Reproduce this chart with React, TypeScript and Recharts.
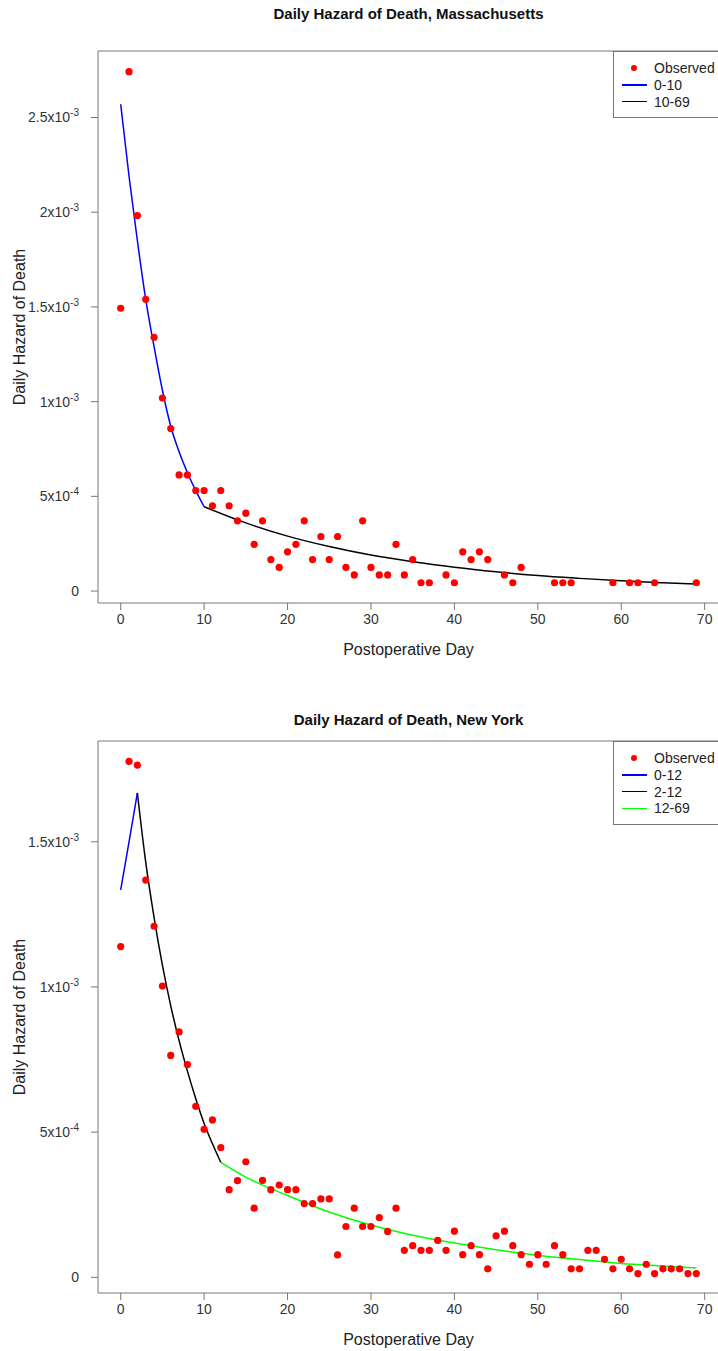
import {
  ComposedChart,
  Scatter,
  Line,
  XAxis,
  YAxis,
  ReferenceArea,
} from 'recharts';

// Massachusetts: observed daily hazard (days without deaths are not plotted)
const MA_DAYS = [
  0, 1, 2, 3, 4, 5, 6, 7, 8, 9, 10, 11, 12, 13, 14, 15, 16, 17, 18, 19, 20, 21, 22, 23, 24, 25, 26, 27,
  28, 29, 30, 31, 32, 33, 34, 35, 36, 37, 39, 40, 41, 42, 43, 44, 46, 47, 48, 52, 53, 54, 59, 61, 62,
  64, 69,
];
const MA_OBSERVED = [
  1.493e-3, 2.742e-3, 1.982e-3, 1.54e-3, 1.34e-3, 1.019e-3, 8.58e-4, 6.13e-4, 6.13e-4, 5.31e-4,
  5.31e-4, 4.5e-4, 5.31e-4, 4.5e-4, 3.71e-4, 4.11e-4, 2.47e-4, 3.71e-4, 1.66e-4, 1.25e-4, 2.07e-4,
  2.47e-4, 3.71e-4, 1.66e-4, 2.88e-4, 1.66e-4, 2.88e-4, 1.25e-4, 8.5e-5, 3.71e-4, 1.25e-4, 8.5e-5,
  8.5e-5, 2.47e-4, 8.5e-5, 1.66e-4, 4.4e-5, 4.4e-5, 8.5e-5, 4.4e-5, 2.07e-4, 1.66e-4, 2.07e-4,
  1.66e-4, 8.5e-5, 4.4e-5, 1.25e-4, 4.4e-5, 4.4e-5, 4.4e-5, 4.4e-5, 4.4e-5, 4.4e-5, 4.4e-5, 4.4e-5,
];
const MA_FIT1_DAYS = [0, 1, 2, 3, 4, 5, 6, 7, 8, 9, 10];
const MA_FIT1 = [2.57e-3, 2.19e-3, 1.85e-3, 1.54e-3, 1.29e-3, 1.06e-3, 8.7e-4, 7.35e-4, 6.25e-4, 5.3e-4, 4.45e-4];
const MA_FIT2_DAYS = [10, 15, 20, 25, 30, 35, 40, 45, 50, 55, 60, 65, 69];
const MA_FIT2 = [4.45e-4, 3.6e-4, 2.9e-4, 2.35e-4, 1.9e-4, 1.55e-4, 1.26e-4, 1.02e-4, 8.2e-5, 6.7e-5, 5.4e-5, 4.4e-5, 3.7e-5];

// New York
const NY_DAYS = [
  0, 1, 2, 3, 4, 5, 6, 7, 8, 9, 10, 11, 12, 13, 14, 15, 16, 17, 18, 19, 20, 21, 22, 23, 24, 25, 26, 27,
  28, 29, 30, 31, 32, 33, 34, 35, 36, 37, 38, 39, 40, 41, 42, 43, 44, 45, 46, 47, 48, 49, 50, 51, 52,
  53, 54, 55, 56, 57, 58, 59, 60, 61, 62, 63, 64, 65, 66, 67, 68, 69,
];
const NY_OBSERVED = [
  1.139e-3, 1.777e-3, 1.764e-3, 1.368e-3, 1.209e-3, 1.003e-3, 7.64e-4, 8.45e-4, 7.33e-4, 5.89e-4,
  5.1e-4, 5.42e-4, 4.47e-4, 3.02e-4, 3.33e-4, 3.98e-4, 2.38e-4, 3.34e-4, 3.02e-4, 3.18e-4, 3.02e-4,
  3.02e-4, 2.54e-4, 2.54e-4, 2.7e-4, 2.7e-4, 7.7e-5, 1.75e-4, 2.38e-4, 1.75e-4, 1.75e-4, 2.06e-4,
  1.58e-4, 2.38e-4, 9.3e-5, 1.09e-4, 9.3e-5, 9.3e-5, 1.27e-4, 9.3e-5, 1.59e-4, 7.8e-5, 1.09e-4,
  7.8e-5, 2.9e-5, 1.43e-4, 1.59e-4, 1.09e-4, 7.8e-5, 4.5e-5, 7.8e-5, 4.5e-5, 1.09e-4, 7.8e-5, 2.9e-5,
  2.9e-5, 9.3e-5, 9.3e-5, 6.2e-5, 2.9e-5, 6.2e-5, 2.9e-5, 1.3e-5, 4.5e-5, 1.3e-5, 2.9e-5, 2.9e-5,
  2.9e-5, 1.3e-5, 1.3e-5,
];
const NY_FIT1_DAYS = [0, 1, 2];
const NY_FIT1 = [1.334e-3, 1.5e-3, 1.668e-3];
const NY_FIT2_DAYS = [2, 3, 4, 5, 6, 7, 8, 9, 10, 11, 12];
const NY_FIT2 = [1.668e-3, 1.43e-3, 1.24e-3, 1.075e-3, 9.35e-4, 8.15e-4, 7.1e-4, 6.15e-4, 5.3e-4, 4.6e-4, 3.96e-4];
const NY_FIT3_DAYS = [12, 15, 20, 25, 30, 35, 40, 45, 50, 55, 60, 65, 69];
const NY_FIT3 = [3.96e-4, 3.45e-4, 2.82e-4, 2.25e-4, 1.8e-4, 1.45e-4, 1.18e-4, 9.5e-5, 7.6e-5, 6.1e-5, 4.8e-5, 3.9e-5, 3.2e-5];

const X_TICKS = [0, 10, 20, 30, 40, 50, 60, 70];
const MA_Y_TICKS = [0, 5e-4, 1e-3, 1.5e-3, 2e-3, 2.5e-3];
const NY_Y_TICKS = [0, 5e-4, 1e-3, 1.5e-3];

const X_DOMAIN: [number, number] = [-2.72, 71.72];
const MA_Y_DOMAIN: [number, number] = [-6.3e-5, 2.851e-3];
const NY_Y_DOMAIN: [number, number] = [-5.4e-5, 1.847e-3];

const FONT = '"Liberation Sans", Arial, sans-serif';
const FRAME = '#777';

const zip = (days: number[], vals: number[]) => days.map((d, i) => ({ day: d, v: vals[i] }));

const YTick = (props: any) => {
  const { x, y, payload } = props;
  const v = payload.value as number;
  if (v === 0) {
    return (
      <text x={x - 10} y={y} dy={5} textAnchor="end" fontSize={14} fill="#333" fontFamily={FONT}>
        0
      </text>
    );
  }
  const e = Math.floor(Math.log10(v) + 1e-9);
  const m = +(v / 10 ** e).toFixed(2);
  return (
    <text x={x - 10} y={y} dy={5} textAnchor="end" fontSize={14} fill="#333" fontFamily={FONT}>
      {m}x10
      <tspan dy={-6} fontSize={10}>
        {e}
      </tspan>
    </text>
  );
};

const Dot = (p: any) => <circle cx={p.cx} cy={p.cy} r={3.6} fill="#ff0000" />;

interface FitLine {
  name: string;
  color: string;
  data: { day: number; v: number }[];
}

interface PanelProps {
  top: number;
  title: string;
  titleY: number;
  observed: { day: number; v: number }[];
  fits: FitLine[];
  yDomain: [number, number];
  yTicks: number[];
}

function Panel({ top, title, titleY, observed, fits, yDomain, yTicks }: PanelProps) {
  const rowH = 16.7;
  return (
    <div style={{ position: 'absolute', left: 0, top, width: 730, height: 660 }}>
      <div
        style={{
          position: 'absolute',
          left: 98,
          width: 621,
          top: titleY - 10,
          lineHeight: '20px',
          textAlign: 'center',
          fontFamily: FONT,
          fontWeight: 'bold',
          fontSize: 15,
          color: '#111',
        }}
      >
        {title}
      </div>
      <ComposedChart width={730} height={633} margin={{ top: 51, right: 11, bottom: 0, left: 0 }}>
        <XAxis
          dataKey="day"
          type="number"
          domain={X_DOMAIN}
          ticks={X_TICKS}
          allowDataOverflow
          axisLine={false}
          tickLine={{ stroke: FRAME }}
          tickSize={7}
          tickMargin={4}
          height={30}
          tick={{ fontSize: 14, fill: '#333', fontFamily: FONT }}
        />
        <YAxis
          dataKey="v"
          type="number"
          domain={yDomain}
          ticks={yTicks}
          allowDataOverflow
          axisLine={false}
          tickLine={{ stroke: FRAME }}
          tickSize={7}
          width={98}
          tick={<YTick />}
        />
        <ReferenceArea
          x1={X_DOMAIN[0]}
          x2={X_DOMAIN[1]}
          y1={yDomain[0]}
          y2={yDomain[1]}
          fill="none"
          stroke={FRAME}
          strokeWidth={1}
          ifOverflow="visible"
        />
        <Scatter data={observed} shape={<Dot />} isAnimationActive={false} />
        {fits.map((f) => (
          <Line
            key={f.name}
            data={f.data}
            dataKey="v"
            type="monotone"
            stroke={f.color}
            strokeWidth={1.5}
            dot={false}
            activeDot={false}
            isAnimationActive={false}
          />
        ))}
      </ComposedChart>
      <div
        style={{
          position: 'absolute',
          left: 98,
          width: 621,
          top: 640,
          lineHeight: '20px',
          textAlign: 'center',
          fontFamily: FONT,
          fontSize: 16,
          color: '#222',
        }}
      >
        Postoperative Day
      </div>
      <div
        style={{
          position: 'absolute',
          left: 20 - 150,
          width: 300,
          top: 327 - 10,
          lineHeight: '20px',
          textAlign: 'center',
          transform: 'rotate(-90deg)',
          fontFamily: FONT,
          fontSize: 16,
          color: '#222',
        }}
      >
        Daily Hazard of Death
      </div>
      <div
        style={{
          position: 'absolute',
          left: 613,
          top: 51,
          width: 106,
          height: 8 + rowH * (fits.length + 1) + 9,
          border: `1px solid ${FRAME}`,
          boxSizing: 'border-box',
          background: '#fff',
          fontFamily: FONT,
          fontSize: 14,
          color: '#222',
        }}
      >
        {[{ name: 'Observed', color: '#ff0000' }, ...fits].map((item, i) => (
          <div
            key={item.name}
            style={{
              position: 'absolute',
              left: 0,
              top: 8 + i * rowH,
              height: rowH,
              width: '100%',
              display: 'flex',
              alignItems: 'center',
            }}
          >
            <div style={{ width: 40, display: 'flex', justifyContent: 'center' }}>
              {i === 0 ? (
                <span style={{ width: 6, height: 6, borderRadius: 3, background: item.color }} />
              ) : (
                <span style={{ width: 25, height: 1.5, background: item.color }} />
              )}
            </div>
            <span style={{ lineHeight: '16px' }}>{item.name}</span>
          </div>
        ))}
      </div>
    </div>
  );
}

export default function App() {
  return (
    <div
      style={{
        position: 'absolute',
        left: 0,
        top: 0,
        width: 718,
        height: 1351,
        overflow: 'hidden',
        background: '#fff',
      }}
    >
      <Panel
        top={0}
        title="Daily Hazard of Death, Massachusetts"
        titleY={14}
        observed={zip(MA_DAYS, MA_OBSERVED)}
        fits={[
          { name: '0-10', color: '#0000ff', data: zip(MA_FIT1_DAYS, MA_FIT1) },
          { name: '10-69', color: '#000000', data: zip(MA_FIT2_DAYS, MA_FIT2) },
        ]}
        yDomain={MA_Y_DOMAIN}
        yTicks={MA_Y_TICKS}
      />
      <Panel
        top={690}
        title="Daily Hazard of Death, New York"
        titleY={30}
        observed={zip(NY_DAYS, NY_OBSERVED)}
        fits={[
          { name: '0-12', color: '#0000ff', data: zip(NY_FIT1_DAYS, NY_FIT1) },
          { name: '2-12', color: '#000000', data: zip(NY_FIT2_DAYS, NY_FIT2) },
          { name: '12-69', color: '#00ff00', data: zip(NY_FIT3_DAYS, NY_FIT3) },
        ]}
        yDomain={NY_Y_DOMAIN}
        yTicks={NY_Y_TICKS}
      />
    </div>
  );
}
